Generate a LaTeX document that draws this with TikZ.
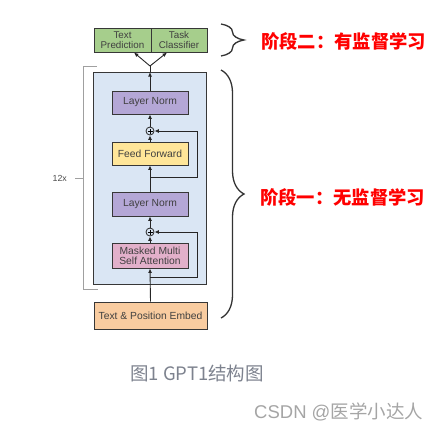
\documentclass[tikz,border=0pt]{standalone}
\usepackage{fontspec}
\newfontfamily\arialf{Liberation Sans}
\newfontfamily\cjk{Noto Sans CJK SC}
\usetikzlibrary{arrows.meta,decorations.pathreplacing,calc}
\definecolor{boxline}{RGB}{55,55,55}
\definecolor{greenbox}{RGB}{166,206,140}
\definecolor{bluebg}{RGB}{218,230,244}
\definecolor{purplebox}{RGB}{180,167,214}
\definecolor{yellowbox}{RGB}{255,230,153}
\definecolor{pinkbox}{RGB}{226,176,202}
\definecolor{orangebox}{RGB}{249,204,160}
\definecolor{bracketgray}{RGB}{160,160,160}
\definecolor{captiongray}{RGB}{125,130,142}
\definecolor{markgray}{RGB}{165,165,165}
\definecolor{stagered}{RGB}{255,0,0}
\tikzset{
  blk/.style={draw=boxline, line width=0.9pt, inner sep=1pt, align=center,
    font=\arialf\fontsize{10.3}{11.5}\selectfont, text=black!75},
  headblk/.style={blk, fill=greenbox, minimum height=24pt, inner sep=0pt,
    font=\arialf\fontsize{9.8}{10.5}\selectfont},
  arr/.style={draw=black!85, line width=0.9pt, -{Latex[length=4.5pt,width=4pt]}},
  ln/.style={draw=black!85, line width=0.9pt},
  addc/.style={circle, draw=black!85, line width=0.8pt, minimum size=8pt, inner sep=0pt},
  plusmark/.style={line width=0.7pt},
  brc/.style={draw=black!80, line width=1.3pt, decorate, decoration={brace, amplitude=23pt}},
  stage/.style={anchor=west, text=stagered, font=\cjk\bfseries\fontsize{18.3}{20}\selectfont, inner sep=0pt}
}
\begin{document}
\begin{tikzpicture}[x=1pt,y=-1pt]
\useasboundingbox (0,0) rectangle (441,432);
% top heads
\node[headblk, minimum width=57pt] (tp) at (122.5,40) {Text\\Prediction};
\node[headblk, minimum width=56pt] (tc) at (179,40) {Task\\Classifier};
% repeat bracket
\coordinate (bt1) at (97,66);
\coordinate (bt0) at (83,66);
\coordinate (bb0) at (83,289);
\coordinate (bb1) at (98,289);
\coordinate (bm) at (83,178);
\coordinate (bmt) at (75,178);
\coordinate (lbl) at (67,178);
\draw[bracketgray, line width=0.9pt] (bt1) -- (bt0) -- (bb0) -- (bb1);
\draw[bracketgray, line width=0.9pt] (bm) -- (bmt);
\node[font=\arialf\fontsize{8.8}{9}\selectfont, text=black!70, anchor=east, inner sep=0pt] (twelve) at (lbl) {12x};
% transformer block background
\node[draw=boxline, line width=0.9pt, fill=bluebg, minimum width=113pt, minimum height=212pt, inner sep=0pt] (blue) at (149.5,178) {};
% blocks
\node[blk, fill=purplebox, minimum width=76pt, minimum height=23pt] (ln1) at (150,102.5) {Layer Norm};
\node[addc] (p1) at (150,131) {};
\node[blk, fill=yellowbox, minimum width=76pt, minimum height=23pt] (ff) at (150,153.5) {Feed Forward};
\node[blk, fill=purplebox, minimum width=76pt, minimum height=24pt] (ln2) at (150,204) {Layer Norm};
\node[addc] (p2) at (150,232) {};
\node[blk, fill=pinkbox, minimum width=76pt, minimum height=25pt] (mm) at (150,255.5) {Masked Multi\\[-1.5pt]Self Attention};
\node[blk, fill=orangebox, minimum width=113pt, minimum height=27pt] (emb) at (150.5,315.5) {Text \& Position Embed};
% plus signs
\draw[plusmark] ($(p1)+(-2.5,0)$) -- ($(p1)+(2.5,0)$) ($(p1)+(0,-2.5)$) -- ($(p1)+(0,2.5)$);
\draw[plusmark] ($(p2)+(-2.5,0)$) -- ($(p2)+(2.5,0)$) ($(p2)+(0,-2.5)$) -- ($(p2)+(0,2.5)$);
% connectors
\coordinate (split) at (150,66);
\coordinate (btop) at (150,72);
\coordinate (r1a) at (150,177);
\coordinate (r1b) at (197,177);
\coordinate (r1c) at (197,131);
\coordinate (r2a) at (150,277);
\coordinate (r2b) at (197,277);
\coordinate (r2c) at (197,232);
\draw[arr] (emb.north) -- (mm.south);
\draw[ln] (r2a) -- (r2b) -- (r2c);
\draw[arr] (r2c) -- (p2.east);
\draw[arr] (mm.north) -- (p2.south);
\draw[arr] (p2.north) -- (ln2.south);
\draw[arr] (ln2.north) -- (ff.south);
\draw[ln] (r1a) -- (r1b) -- (r1c);
\draw[arr] (r1c) -- (p1.east);
\draw[arr] (ff.north) -- (p1.south);
\draw[arr] (p1.north) -- (ln1.south);
\draw[arr] (ln1.north) -- (btop);
\draw[ln] (btop) -- (split);
\draw[arr] (split) -- (134,52.5);
\draw[arr] (split) -- (167,52.5);
% braces
\coordinate (b1t) at (221,24);
\coordinate (b1b) at (221,56);
\coordinate (b2t) at (221,70);
\coordinate (b2b) at (221,318);
\draw[brc] (b1t) -- (b1b);
\draw[brc] (b2t) -- (b2b);
\node[stage] (s2) at (261,41) {阶段二：有监督学习};
\node[stage] (s1) at (260,197) {阶段一：无监督学习};
% caption and watermark
\node[anchor=west, inner sep=0pt, text=captiongray, font=\cjk\fontsize{18.5}{21}\selectfont] (cap) at (130,373) {图1 GPT1结构图};
\node[anchor=west, inner sep=0pt, text=markgray, font=\fontsize{18.5}{21}\selectfont] (wm) at (254,412) {{\arialf CSDN @}{\cjk 医学小达人}};
\end{tikzpicture}
\end{document}
